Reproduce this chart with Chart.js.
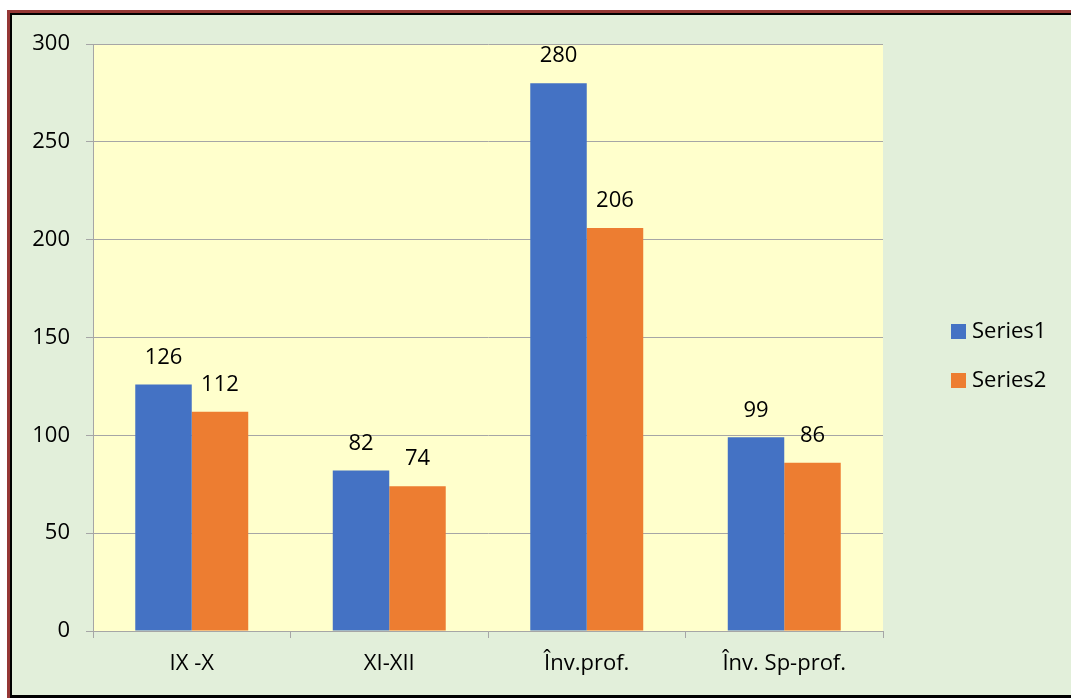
<!DOCTYPE html>
<html>
<head>
<meta charset="utf-8">
<script src="https://cdn.jsdelivr.net/npm/chart.js@4.4.0/dist/chart.umd.min.js"></script>
<style>
    html, body { margin: 0; padding: 0; background: #fff; width: 1071px; height: 698px; overflow: hidden; }
    #frame {
        position: absolute; left: 7px; top: 10px; width: 1080px; height: 688px;
        box-sizing: border-box; border-top: 3px solid #953735; border-left: 3px solid #953735;
    }
    #inner {
        width: 100%; height: 100%; box-sizing: border-box; background: #e2efda;
        border-top: 2px solid #000; border-left: 2px solid #000; border-bottom: 3px solid #000;
    }
    #chart { position: absolute; left: 0; top: 0; }
</style>
</head>
<body>
<div id="frame"><div id="inner"></div></div>
<canvas id="chart" width="1071" height="698"></canvas>
<script>
// datos del grafico
const categories = ['IX -X', 'XI-XII', 'Înv.prof.', 'Înv. Sp-prof.'];
const seriesNames = ['Series1', 'Series2'];
const series1 = [126, 82, 280, 99];
const series2 = [112, 74, 206, 86];
const yMax = 300;
const yStep = 50;

const blue = '#4472c4';
const orange = '#ed7d31';
const gridColor = '#a6a6a6';
const fontFamily = "'Open Sans', 'Noto Sans', sans-serif";

Chart.defaults.font.family = fontFamily;
Chart.defaults.font.size = 22;
Chart.defaults.color = '#000';

// fondo amarillo del area de trazado
const plotBackground = {
    id: 'plotBackground',
    beforeDraw(chart) {
        const { ctx, chartArea } = chart;
        ctx.save();
        ctx.fillStyle = '#ffffcc';
        ctx.fillRect(chartArea.left, chartArea.top, chartArea.right - chartArea.left, chartArea.bottom - chartArea.top);
        ctx.restore();
    },
};

// etiquetas de valores encima de las barras
const valueLabels = {
    id: 'valueLabels',
    afterDatasetsDraw(chart) {
        const ctx = chart.ctx;
        ctx.save();
        ctx.font = '22px ' + fontFamily;
        ctx.fillStyle = '#000';
        ctx.textAlign = 'center';
        ctx.textBaseline = 'middle';
        chart.data.datasets.forEach((ds, i) => {
            chart.getDatasetMeta(i).data.forEach((bar, j) => {
                ctx.fillText(ds.data[j], bar.x, bar.y - 27);
            });
        });
        ctx.restore();
    },
};

// leyenda a la derecha
const sideLegend = {
    id: 'sideLegend',
    afterDraw(chart) {
        const ctx = chart.ctx;
        ctx.save();
        ctx.font = '22px ' + fontFamily;
        ctx.textBaseline = 'middle';
        ctx.textAlign = 'left';
        chart.data.datasets.forEach((ds, i) => {
            const cy = 332 + i * 49;
            ctx.fillStyle = ds.backgroundColor;
            ctx.fillRect(951, cy - 8, 15, 15);
            ctx.fillStyle = '#000';
            ctx.fillText(ds.label, 972, cy);
        });
        ctx.restore();
    },
};

const ctx = document.getElementById('chart').getContext('2d');

const chart = new Chart(ctx, {
    type: 'bar',
    data: {
        labels: categories,
        datasets: [
            { label: seriesNames[0], data: series1, backgroundColor: blue },
            { label: seriesNames[1], data: series2, backgroundColor: orange },
        ],
    },
    options: {
        responsive: false,
        animation: false,
        categoryPercentage: 0.572,
        barPercentage: 1,
        layout: { padding: { left: 0, top: 44, right: 188, bottom: 0 } },
        plugins: {
            legend: { display: false },
            tooltip: { enabled: false },
        },
        scales: {
            x: {
                grid: { drawOnChartArea: false, color: gridColor, tickLength: 7 },
                border: { color: gridColor },
                ticks: { padding: 13 },
                afterFit(scale) { scale.height = 67; },
            },
            y: {
                min: 0,
                max: yMax,
                ticks: { stepSize: yStep, padding: 16 },
                grid: { color: gridColor, tickLength: 7 },
                border: { color: gridColor },
                afterFit(scale) { scale.width = 93; },
            },
        },
    },
    plugins: [plotBackground, valueLabels, sideLegend],
});
</script>
</body>
</html>
